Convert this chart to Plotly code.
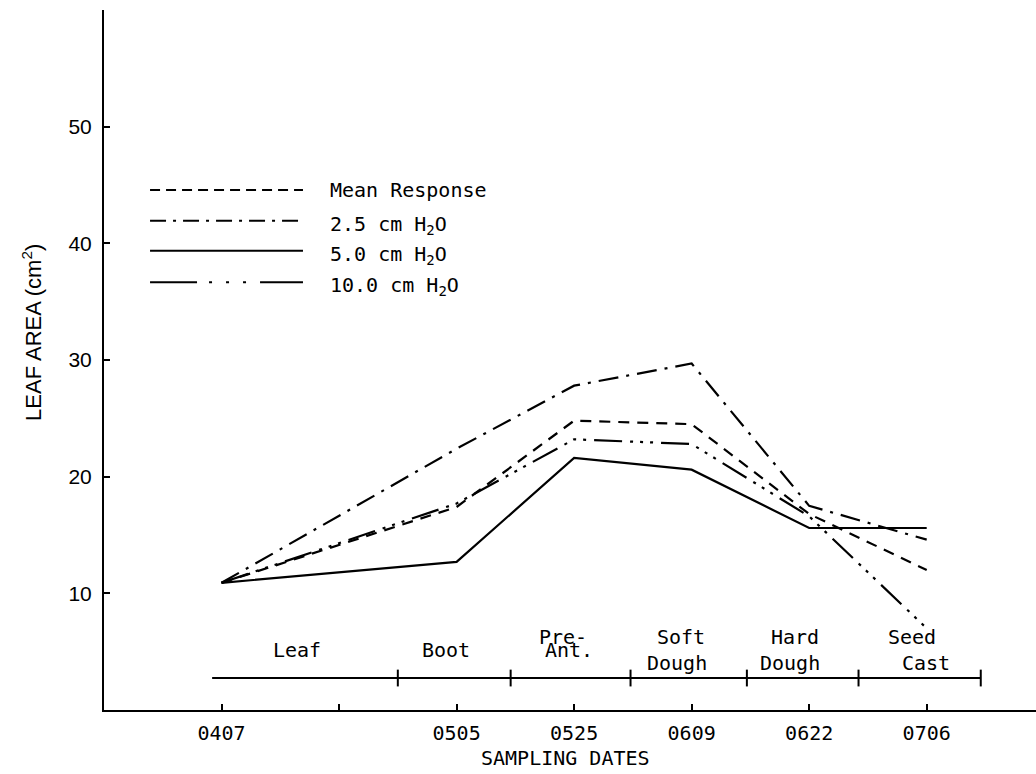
import plotly.graph_objects as go

# ---- data ----
axis_labels = ["0407", "", "0505", "0525", "0609", "0622", "0706"]   # tick labels (blank = unlabeled tick)
dates = ["0407", "0505", "0525", "0609", "0622", "0706"]
mean_response = [10.9, 17.4, 24.8, 24.5, 16.8, 12.0]
h2o_2_5 = [10.9, 22.4, 27.8, 29.7, 17.5, 14.6]
h2o_5_0 = [10.9, 12.7, 21.6, 20.6, 15.6, 15.6]
h2o_10_0 = [10.9, 17.7, 23.2, 22.8, 16.6, 7.0]
y_tick_values = [10, 20, 30, 40, 50, 60]
y_tick_labels = ["10", "20", "30", "40", "50", ""]
stage_names = [["Leaf"], ["Boot"], ["Pre-", "Ant."], ["Soft", "Dough"], ["Hard", "Dough"], ["Seed", "Cast"]]
stage_bounds = [-0.08, 1.5, 2.46, 3.48, 4.47, 5.42, 6.46]
stage_level = 2.74

series = [
    ("Mean Response", mean_response, "11px,8px", "10px,6px"),
    ("2.5 cm H<sub>2</sub>O", h2o_2_5, "20px,8px,3px,8px", "16px,7px,3px,7px"),
    ("5.0 cm H<sub>2</sub>O", h2o_5_0, "solid", "solid"),
    ("10.0 cm H<sub>2</sub>O", h2o_10_0, "28px,8px,3px,7px,3px,7px,3px,8px",
     "47px,12px,3px,14px,3px,14px,3px,14px"),
]

MONO = "DejaVu Sans Mono"
SANS = "Liberation Sans"

x_pos = [axis_labels.index(d) for d in dates]

fig = go.Figure()
for name, vals, dash, _ in series:
    fig.add_trace(go.Scatter(x=x_pos, y=vals, mode="lines", name=name, showlegend=False,
                             line=dict(color="black", width=2.2, dash=dash)))

# phenological stage bar
fig.add_trace(go.Scatter(x=[stage_bounds[0], stage_bounds[-1]], y=[stage_level, stage_level],
                         mode="lines", line=dict(color="black", width=2), showlegend=False,
                         hoverinfo="skip"))
fig.add_trace(go.Scatter(x=stage_bounds[1:], y=[stage_level] * (len(stage_bounds) - 1),
                         mode="markers", showlegend=False, hoverinfo="skip",
                         marker=dict(symbol="line-ns-open", size=12, color="black",
                                     line=dict(color="black", width=2))))

annotations = []
xshift_px = -8
for i, lines in enumerate(stage_names):
    mid = (stage_bounds[i] + stage_bounds[i + 1]) / 2
    if len(lines) == 1:
        annotations.append(dict(x=mid, y=stage_level, xref="x", yref="y", text=lines[0],
                                showarrow=False, xshift=xshift_px, yshift=28,
                                font=dict(family=MONO, size=20, color="black")))
    else:
        shifts = [41, 15]
        if lines[0] == "Pre-":
            shifts = [41, 28]
        for j, t in enumerate(lines):
            xs = xshift_px
            if t == "Ant.":
                xs = xshift_px + 6
            if t == "Cast":
                xs = xshift_px + 14
            if t == "Dough" and lines[0] == "Soft":
                xs = xshift_px - 4
            if t == "Dough" and lines[0] == "Hard":
                xs = xshift_px - 5
            annotations.append(dict(x=mid, y=stage_level, xref="x", yref="y", text=t,
                                    showarrow=False, xshift=xs, yshift=shifts[j],
                                    font=dict(family=MONO, size=20, color="black")))

# legend (drawn manually with long sample lines)
shapes = []
leg_rows = [0.743, 0.699, 0.656, 0.611]
for (name, _, _, ldash), yr in zip(series, leg_rows):
    shapes.append(dict(type="line", xref="paper", yref="paper", x0=0.0494, x1=0.2135,
                       y0=yr, y1=yr, line=dict(color="black", width=2, dash=ldash)))
    annotations.append(dict(x=0.2403, y=yr, xref="paper", yref="paper", text=name,
                            showarrow=False, xanchor="left", yanchor="middle",
                            yshift=(-4 if "sub" in name else 0),
                            font=dict(family=MONO, size=20, color="black")))

# axis titles
annotations.append(dict(x=-0.0773, y=0.54, xref="paper", yref="paper",
                        text="LEAF AREA (cm<sup>2</sup>)", textangle=-90, showarrow=False,
                        xanchor="center", yanchor="middle",
                        font=dict(family=SANS, size=22, color="black")))
annotations.append(dict(x=0.4957, y=-0.0686, xref="paper", yref="paper",
                        text="SAMPLING DATES", showarrow=False, xanchor="center",
                        yanchor="middle", font=dict(family=MONO, size=20, color="black")))

fig.update_layout(
    width=1036, height=774,
    margin=dict(l=104, r=0, t=10, b=64),
    paper_bgcolor="white", plot_bgcolor="white",
    shapes=shapes, annotations=annotations,
    xaxis=dict(range=[-1.0, 6.93], tickmode="array", tickvals=list(range(len(axis_labels))),
               ticktext=axis_labels, ticks="inside", ticklen=6, tickwidth=1.5,
               tickcolor="black", showline=True, linecolor="black", linewidth=2,
               showgrid=False, zeroline=False, ticklabelstandoff=4,
               tickfont=dict(family=MONO, size=20, color="black")),
    yaxis=dict(range=[0, 60], tickmode="array", tickvals=y_tick_values,
               ticktext=y_tick_labels, ticks="inside", ticklen=6, tickwidth=1.5,
               tickcolor="black", showline=True, linecolor="black", linewidth=2,
               showgrid=False, zeroline=False, ticklabelstandoff=6,
               tickfont=dict(family=SANS, size=21, color="black")),
)

fig.write_html("out.html")
